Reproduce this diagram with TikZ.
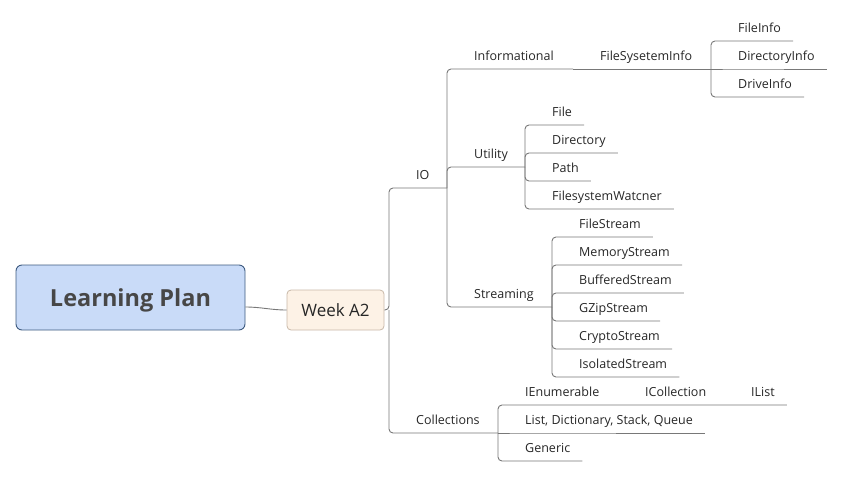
\documentclass[tikz,border=0pt]{standalone}
\usepackage{fontspec}
\setmainfont{Open Sans}
\usetikzlibrary{positioning,calc}
\definecolor{rootfill}{HTML}{C9DBF8}
\definecolor{rootline}{HTML}{3D5A80}
\definecolor{weekfill}{HTML}{FDF2E6}
\definecolor{weekline}{HTML}{C8B8A8}
\definecolor{linegrey}{HTML}{787878}
\definecolor{txtgrey}{HTML}{262626}
\definecolor{roottxt}{HTML}{474747}

\tikzset{
  topic/.style={anchor=south west, inner xsep=0pt, inner ysep=8pt, text depth=0pt, text=txtgrey, font=\fontsize{12.5}{15}\selectfont},
  branch/.style={draw=linegrey, line width=0.9pt, rounded corners=4pt},
}

\begin{document}
\begin{tikzpicture}[x=1pt, y=-1pt]
\useasboundingbox (0,0) rectangle (845,477);
% central topic and week
\node[fill=rootfill, draw=rootline, line width=0.9pt, rounded corners=6pt, minimum width=229pt, minimum height=65pt, text depth=0pt, text=roottxt, font=\fontsize{23.5}{27}\selectfont\bfseries] (root) at (130.5,297.5) {Learning Plan};
\node[fill=weekfill, draw=weekline, line width=0.8pt, rounded corners=4pt, minimum width=97pt, minimum height=40pt, text=txtgrey, font=\fontsize{17}{20}\selectfont] (week) at (335.5,310) {Week A2};
\draw[linegrey, line width=0.9pt] ([yshift=-9.5pt]root.east) to[out=0, in=180] (week.west);

% joints
\coordinate (jweek) at (389,310);
\coordinate (jio) at (447,188);
\coordinate (jinfo) at (573,69);
\coordinate (jfsi) at (711,69);
\coordinate (jutil) at (525,167);
\coordinate (jstream) at (552,307);
\coordinate (jcoll) at (498,433);
\coordinate (jienum) at (618,405);
\coordinate (jicoll) at (724,405);

% IO
\node[topic] (io) at (416,188) {IO};
\draw[branch] (week.east) -- (jweek) |- (jio);
\node[topic] (info) at (474,69) {Informational};
\draw[branch] (jio) |- (jinfo);
\node[topic] (fsi) at (600,69) {FileSysetemInfo};
\draw[branch] (jinfo) -- (jfsi);
\node[topic] (fileinfo) at (738,41) {FileInfo};
\node[topic] (dirinfo) at (738,69) {DirectoryInfo};
\node[topic] (driveinfo) at (738,97) {DriveInfo};
\draw[branch] (jfsi) |- (fileinfo.south west) -- ([xshift=12pt]fileinfo.south east);
\draw[branch] (jfsi) -- (dirinfo.south west) -- ([xshift=12pt]dirinfo.south east);
\draw[branch] (jfsi) |- (driveinfo.south west) -- ([xshift=12pt]driveinfo.south east);

\node[topic] (util) at (474,167) {Utility};
\draw[branch] (jio) |- (jutil);
\node[topic] (file) at (552,125) {File};
\node[topic] (dir) at (552,153) {Directory};
\node[topic] (path) at (552,181) {Path};
\node[topic] (watch) at (552,209) {FilesystemWatcner};
\draw[branch] (jutil) |- (file.south west) -- ([xshift=12pt]file.south east);
\draw[branch] (jutil) |- (dir.south west) -- ([xshift=12pt]dir.south east);
\draw[branch] (jutil) |- (path.south west) -- ([xshift=12pt]path.south east);
\draw[branch] (jutil) |- (watch.south west) -- ([xshift=12pt]watch.south east);

\node[topic] (stream) at (474,307) {Streaming};
\draw[branch] (jio) |- (jstream);
\node[topic] (fstream) at (579,237) {FileStream};
\node[topic] (mstream) at (579,265) {MemoryStream};
\node[topic] (bstream) at (579,293) {BufferedStream};
\node[topic] (gstream) at (579,321) {GZipStream};
\node[topic] (cstream) at (579,349) {CryptoStream};
\node[topic] (istream) at (579,377) {IsolatedStream};
\draw[branch] (jstream) |- (fstream.south west) -- ([xshift=12pt]fstream.south east);
\draw[branch] (jstream) |- (mstream.south west) -- ([xshift=12pt]mstream.south east);
\draw[branch] (jstream) |- (bstream.south west) -- ([xshift=12pt]bstream.south east);
\draw[branch] (jstream) |- (gstream.south west) -- ([xshift=12pt]gstream.south east);
\draw[branch] (jstream) |- (cstream.south west) -- ([xshift=12pt]cstream.south east);
\draw[branch] (jstream) |- (istream.south west) -- ([xshift=12pt]istream.south east);

% Collections
\node[topic] (coll) at (416,433) {Collections};
\draw[branch] (jweek) |- (jcoll);
\node[topic] (ienum) at (525,405) {IEnumerable};
\node[topic] (icoll) at (645,405) {ICollection};
\node[topic] (ilist) at (751,405) {IList};
\draw[branch] (jcoll) |- (jienum) -- (jicoll) -- ([xshift=12pt]ilist.south east);
\node[topic] (ldsq) at (525,433) {List, Dictionary, Stack, Queue};
\node[topic] (generic) at (525,461) {Generic};
\draw[branch] (jcoll) -- (ldsq.south west) -- ([xshift=12pt]ldsq.south east);
\draw[branch] (jcoll) |- (generic.south west) -- ([xshift=12pt]generic.south east);
\end{tikzpicture}
\end{document}
